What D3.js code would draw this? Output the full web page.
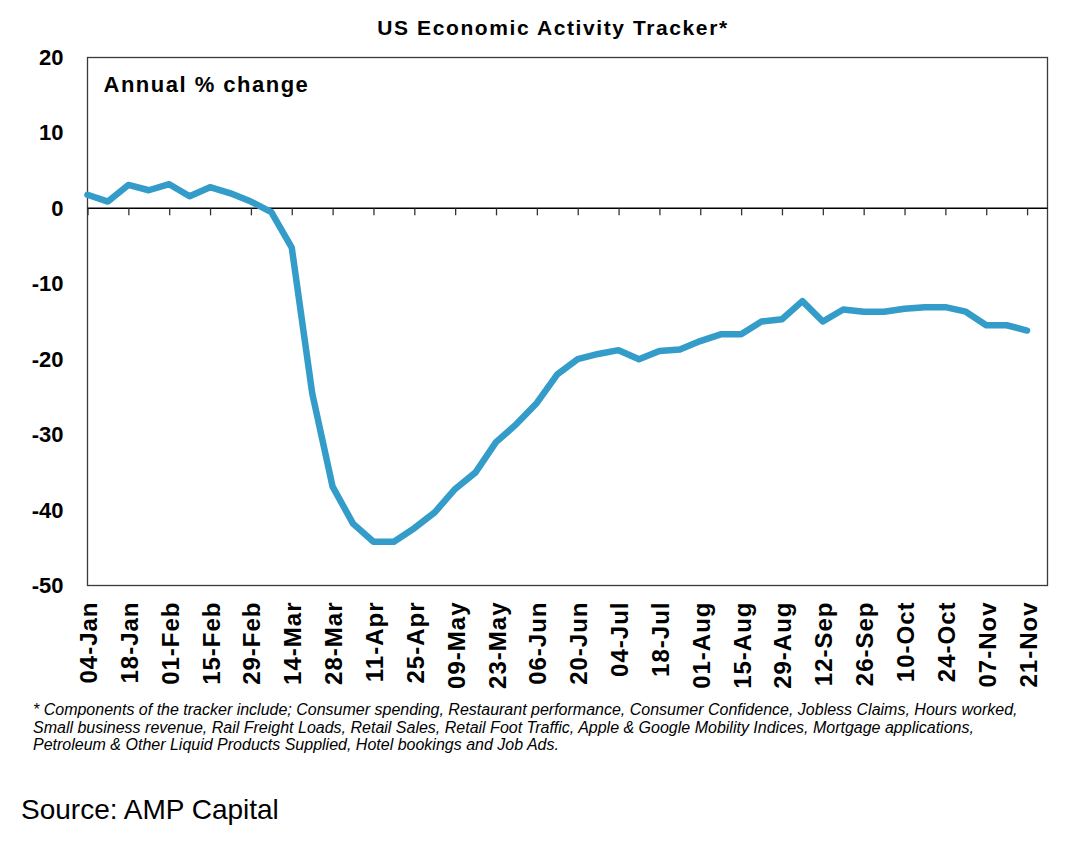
<!DOCTYPE html>
<html>
<head>
<meta charset="utf-8">
<script src="https://cdn.jsdelivr.net/npm/d3@7"></script>
<style>
  body { margin: 0; background: #fff; }
  text { font-family: Arial, "Liberation Sans", sans-serif; fill: #000; }
</style>
</head>
<body>
<div id="chart"></div>
<script>
// weekly dates (2020)
const dates = [
  "04-Jan","11-Jan","18-Jan","25-Jan","01-Feb","08-Feb","15-Feb","22-Feb","29-Feb",
  "07-Mar","14-Mar","21-Mar","28-Mar","04-Apr","11-Apr","18-Apr","25-Apr",
  "02-May","09-May","16-May","23-May","30-May","06-Jun","13-Jun","20-Jun","27-Jun",
  "04-Jul","11-Jul","18-Jul","25-Jul","01-Aug","08-Aug","15-Aug","22-Aug","29-Aug",
  "05-Sep","12-Sep","19-Sep","26-Sep","03-Oct","10-Oct","17-Oct","24-Oct","31-Oct",
  "07-Nov","14-Nov","21-Nov"
];

// tracker, annual % change
const values = [
  1.8, 0.9, 3.1, 2.4, 3.2, 1.6, 2.8, 2.0, 0.9,
  -0.5, -5.2, -24.5, -36.9, -41.8, -44.2, -44.2, -42.4,
  -40.3, -37.2, -35.0, -31.0, -28.6, -25.8, -22.0, -20.0, -19.3,
  -18.8, -20.0, -18.9, -18.7, -17.6, -16.7, -16.7, -15.0, -14.7,
  -12.3, -15.0, -13.4, -13.7, -13.7, -13.3, -13.1, -13.1, -13.7,
  -15.5, -15.5, -16.2
];

const yTicks = [20, 10, 0, -10, -20, -30, -40, -50];

const title = "US Economic Activity Tracker*";
const unitLabel = "Annual % change";
const footnote = [
  "* Components of the tracker include; Consumer spending, Restaurant performance, Consumer Confidence, Jobless Claims, Hours worked,",
  "Small business revenue, Rail Freight Loads, Retail Sales, Retail Foot Traffic, Apple & Google Mobility Indices, Mortgage applications,",
  "Petroleum & Other Liquid Products Supplied, Hotel bookings and Job Ads."
];
const source = "Source: AMP Capital";

// 크기 및 마진
const W = 1073, H = 849;
const margin = { top: 57.5, left: 87.5 },
      width = 960,
      height = 528;

const root = d3.select("#chart")
  .append("svg")
  .attr("width", W)
  .attr("height", H);

const svg = root.append("g")
  .attr("transform", `translate(${margin.left},${margin.top})`);

// 스케일
const x = d3.scaleLinear()
  .domain([0, dates.length])
  .range([0, width]);

const y = d3.scaleLinear()
  .domain([-50, 20])
  .range([height, 0]);

// plot frame
svg.append("rect")
  .attr("x", 0).attr("y", 0)
  .attr("width", width).attr("height", height)
  .attr("fill", "none")
  .attr("stroke", "#3a3a3a")
  .attr("stroke-width", 1.3);

// Y축 labels (plain hyphen for negatives, like the original)
const yAxis = svg.append("g")
  .call(d3.axisLeft(y).tickValues(yTicks).tickSize(0).tickPadding(24).tickFormat(d => String(d)));
yAxis.select(".domain").remove();
yAxis.selectAll("text")
  .attr("font-size", "22px")
  .attr("font-weight", "bold")
  .attr("font-family", "Arial, 'Liberation Sans', sans-serif");

// zero line with tick marks
const zeroAxis = svg.append("g")
  .attr("transform", `translate(0, ${y(0)})`)
  .call(d3.axisBottom(x).tickValues(d3.range(0, dates.length, 2)).tickSize(7).tickFormat(""));
zeroAxis.select(".domain")
  .attr("d", `M0,0H${width}`)
  .attr("stroke", "#000")
  .attr("stroke-width", 1.5);
zeroAxis.selectAll(".tick line")
  .attr("stroke", "#333")
  .attr("stroke-width", 1.3);

// X축 labels, rotated
const xAxis = svg.append("g")
  .attr("transform", `translate(0, ${height})`)
  .call(d3.axisBottom(x).tickValues(d3.range(0, dates.length, 2)).tickSize(0).tickFormat(i => dates[i]));
xAxis.select(".domain").remove();
xAxis.selectAll("text")
  .attr("font-size", "24px")
  .attr("font-weight", "bold")
  .attr("font-family", "Arial, 'Liberation Sans', sans-serif")
  .attr("letter-spacing", "1px")
  .attr("text-anchor", "end")
  .attr("dy", null)
  .attr("y", 0)
  .attr("transform", "translate(9, 16) rotate(-90)");

// line
const line = d3.line()
  .x((d, i) => x(i))
  .y(d => y(d));

svg.append("path")
  .datum(values)
  .attr("fill", "none")
  .attr("stroke", "#339cc8")
  .attr("stroke-width", 6.5)
  .attr("stroke-linejoin", "round")
  .attr("stroke-linecap", "round")
  .attr("d", line);

// in-plot label
svg.append("text")
  .attr("x", 16)
  .attr("y", 34.5)
  .attr("font-size", "22px")
  .attr("font-weight", "bold")
  .attr("letter-spacing", "1.5px")
  .text(unitLabel);

// title
root.append("text")
  .attr("x", 553)
  .attr("y", 35)
  .attr("text-anchor", "middle")
  .attr("font-size", "21px")
  .attr("font-weight", "bold")
  .attr("letter-spacing", "1.6px")
  .text(title);

// footnote
root.append("g")
  .selectAll("text")
  .data(footnote)
  .enter()
  .append("text")
  .attr("x", 33)
  .attr("y", (d, i) => 715 + i * 17.7)
  .attr("font-size", "16px")
  .attr("font-style", "italic")
  .text(d => d);

// source
root.append("text")
  .attr("x", 21)
  .attr("y", 819)
  .attr("font-size", "28px")
  .text(source);
</script>
</body>
</html>
